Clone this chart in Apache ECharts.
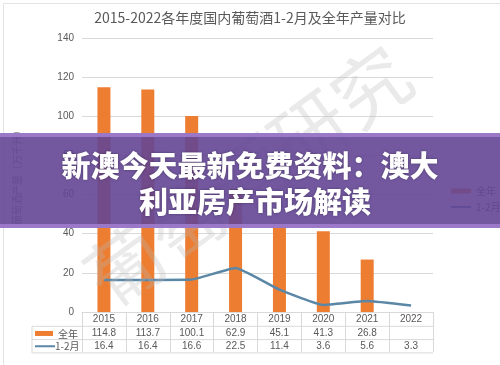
<!DOCTYPE html>
<html><head><meta charset="utf-8">
<script src="https://cdn.jsdelivr.net/npm/echarts@6/dist/echarts.min.js"></script>
<style>html,body{margin:0;padding:0;background:#fff}#c{width:500px;height:365px}</style>
</head><body><div id="c"></div>
<script>
const years = ['2015','2016','2017','2018','2019','2020','2021','2022'];
const fullYear = [114.8, 113.7, 100.1, 62.9, 45.1, 41.3, 26.8, null];
const janFeb = [16.4, 16.4, 16.6, 22.5, 11.4, 3.6, 5.6, 3.3];
const seriesNames = ['全年', '1-2月'];
const yTicks = [0, 20, 40, 60, 80, 100, 120, 140];
const titleText = '2015-2022各年度国内葡萄酒1-2月及全年产量对比';
const yName = '葡萄酒产量（万千升）';
const bannerLines = ['新澳今天最新免费资料：澳大', '利亚房产市场解读'];
const watermark = '葡萄酒研究';

const orange = '#ED7D31', blue = '#5B87A6', txt = '#595959', border = '#d9d9d9';
const chart = echarts.init(document.getElementById('c'));
const fmt = v => (v === null || v === undefined) ? ' ' : v.toFixed(1);
const L = 82, R = 433, T = 38, B = 312, rowH = 13.3;
chart.setOption({
  animation: false,
  title: { text: titleText, left: 'center', top: 6, textStyle: { fontSize: 14, fontWeight: 'normal', color: txt, fontFamily: 'Noto Sans CJK SC' } },
  legend: { orient: 'vertical', left: 446, top: 181, itemWidth: 20, itemHeight: 5, itemGap: 6,
    textStyle: { fontSize: 10, color: txt, fontFamily: 'Noto Sans CJK SC' },
    data: [{ name: seriesNames[0], icon: 'rect' }, { name: seriesNames[1], icon: 'path://M0,0 L20,0 L20,2 L0,2 Z' }] },
  grid: { left: L, right: 500 - R, top: T, bottom: 365 - B },
  xAxis: { type: 'category', data: years,
    axisLine: { lineStyle: { color: border } },
    axisTick: { show: true, length: 40, lineStyle: { color: border } },
    axisLabel: { margin: 1, color: txt, fontSize: 10, lineHeight: rowH, fontFamily: 'Liberation Sans',
      formatter: (v, i) => v + '\n' + fmt(fullYear[i]) + '\n' + fmt(janFeb[i]) } },
  yAxis: { type: 'value', min: yTicks[0], max: yTicks[yTicks.length - 1], interval: 20,
    name: yName, nameLocation: 'middle', nameGap: 60, nameRotate: 90,
    nameTextStyle: { fontSize: 10, color: '#8a8a8a', fontFamily: 'Noto Sans CJK SC' },
    axisLine: { show: false }, axisTick: { show: false },
    axisLabel: { color: txt, fontSize: 10, margin: 8, fontFamily: 'Liberation Sans' },
    splitLine: { lineStyle: { color: border } } },
  series: [
    { name: seriesNames[0], type: 'bar', data: fullYear, barWidth: 13, itemStyle: { color: orange }, z: 2 },
    { name: seriesNames[1], type: 'line', data: janFeb, smooth: 0.12, showSymbol: false, symbol: 'none',
      lineStyle: { color: blue, width: 2.5 }, itemStyle: { color: blue }, z: 3 }
  ],
  graphic: [
    { type: 'rect', left: 1, top: 1, shape: { width: 497, height: 362 }, style: { fill: 'none', stroke: '#e3e3e3', lineWidth: 1 }, silent: true },
    { type: 'line', shape: { x1: 32, y1: B + rowH + 1, x2: R, y2: B + rowH + 1 }, style: { stroke: border, lineWidth: 1 } },
    { type: 'line', shape: { x1: 32, y1: B + 2 * rowH + 1, x2: R, y2: B + 2 * rowH + 1 }, style: { stroke: border, lineWidth: 1 } },
    { type: 'line', shape: { x1: 32, y1: B + 3 * rowH + 1, x2: R, y2: B + 3 * rowH + 1 }, style: { stroke: border, lineWidth: 1 } },
    { type: 'line', shape: { x1: 32, y1: B + rowH + 1, x2: 32, y2: B + 3 * rowH + 1 }, style: { stroke: border, lineWidth: 1 } },
    { type: 'rect', shape: { x: 35, y: B + 1.5 * rowH - 1, width: 18, height: 5 }, style: { fill: orange } },
    { type: 'text', style: { x: 58, y: B + 1.5 * rowH + 2, text: seriesNames[0], fill: txt, fontSize: 10, fontFamily: 'Noto Sans CJK SC', verticalAlign: 'middle' } },
    { type: 'line', shape: { x1: 35, y1: B + 2.5 * rowH + 1, x2: 55, y2: B + 2.5 * rowH + 1 }, style: { stroke: blue, lineWidth: 2 } },
    { type: 'text', style: { x: 55, y: B + 2.5 * rowH + 1, text: seriesNames[1], fill: txt, fontSize: 10, fontFamily: 'Noto Sans CJK SC', verticalAlign: 'middle' } },
    { type: 'text', x: 248, y: 176, rotation: 0.63, silent: true, z: 50,
      style: { text: watermark, fontSize: 76, fontWeight: 'normal', fill: 'rgba(185,185,185,0.3)', align: 'center', verticalAlign: 'middle', fontFamily: 'Noto Sans CJK SC', letterSpacing: 8 } },
    { type: 'rect', z: 100, shape: { x: 0, y: 133, width: 500, height: 95 }, style: { fill: 'rgba(100,70,150,0.9)' } },
    { type: 'rect', z: 101, shape: { x: 0, y: 133, width: 500, height: 4 }, style: { fill: 'rgba(160,125,205,0.9)' } },
    { type: 'rect', z: 101, shape: { x: 0, y: 224, width: 500, height: 4 }, style: { fill: 'rgba(160,125,205,0.9)' } },
    { type: 'text', z: 102, style: { x: 250, y: 166, text: bannerLines[0], fill: '#fff', fontSize: 29, fontWeight: 900, align: 'center', verticalAlign: 'middle', fontFamily: 'Noto Sans CJK SC', textShadowColor: 'rgba(0,0,0,0.35)', textShadowBlur: 3 } },
    { type: 'text', z: 102, style: { x: 255, y: 202, text: bannerLines[1], fill: '#fff', fontSize: 29, fontWeight: 900, align: 'center', verticalAlign: 'middle', fontFamily: 'Noto Sans CJK SC', textShadowColor: 'rgba(0,0,0,0.35)', textShadowBlur: 3 } }
  ]
});
</script></body></html>
